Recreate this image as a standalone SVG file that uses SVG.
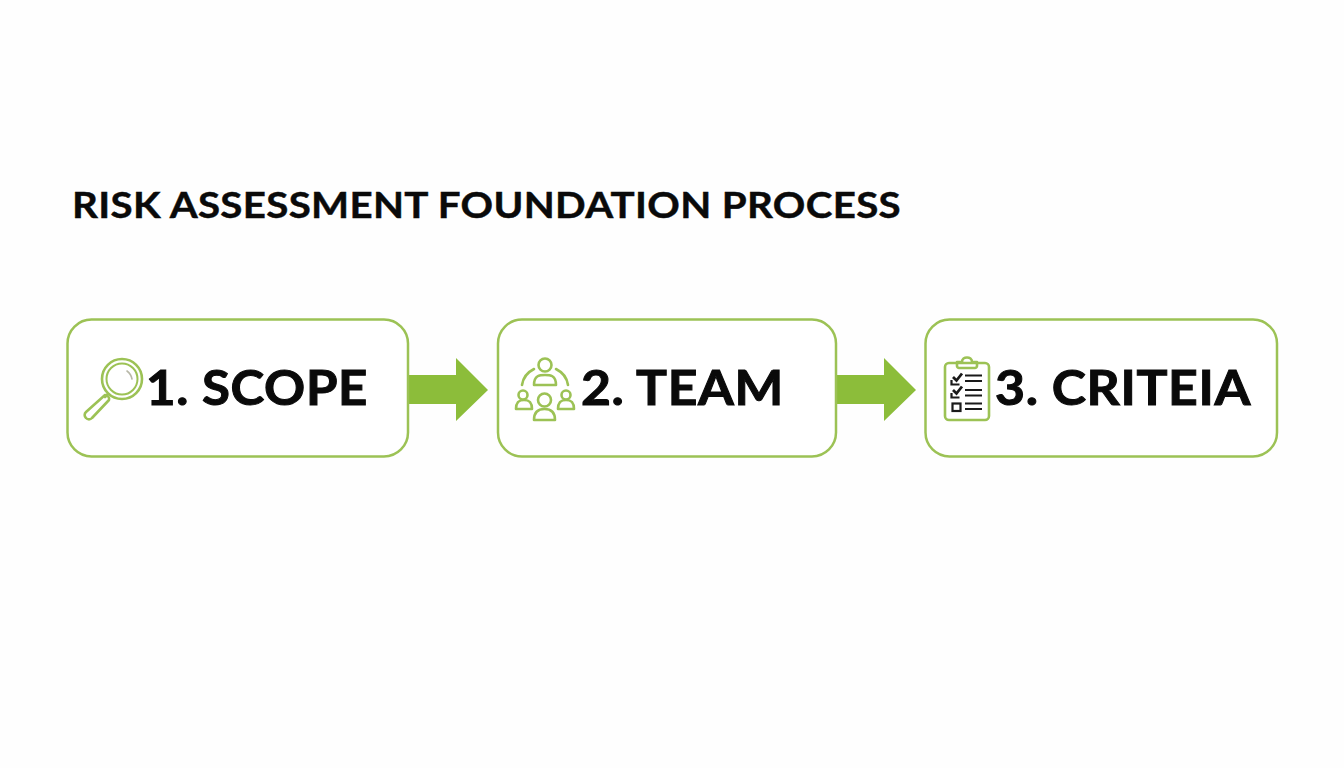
<svg xmlns="http://www.w3.org/2000/svg" width="1344" height="768" viewBox="0 0 1344 768">
<style>
.t{font-family:Lato,"Open Sans",sans-serif;font-weight:700;fill:#0a0a0a;stroke:#0a0a0a}
.title{font-size:37px;stroke-width:.45;letter-spacing:.3px}
.lab{font-size:48px;stroke-width:1;letter-spacing:.6px}
.box{fill:#fff;stroke:#9cc255;stroke-width:2.5}
.ic{fill:none;stroke:#9cc255;stroke-width:2.6;stroke-linecap:round;stroke-linejoin:round}
.k{fill:none;stroke:#1a1a1a;stroke-width:2.200}
.arr{fill:#8cbd3a}
</style>
<rect width="1344" height="768" fill="#fefefe"/>
<text id="title" class="t title" x="72" y="218" textLength="829" lengthAdjust="spacingAndGlyphs">RISK ASSESSMENT FOUNDATION PROCESS</text>
<g id="connectors">
<polygon class="arr" points="408,375 456,375 456,358 488,390 456,421 456,404 408,404"/>
<polygon class="arr" points="836,375 884,375 884,358 916,390 884,421 884,404 836,404"/>
</g>
<g id="node1">
<rect class="box" x="67.500" y="319.500" width="340.500" height="137" rx="24"/>
<g class="ic">
<circle cx="122" cy="379" r="20"/>
<circle cx="122" cy="379" r="15.500" stroke-width="2"/>
<path d="M127 371a13 13 0 0 1 5 8" stroke="#b8b8a8" stroke-width="1.600"/>
<path d="M108 394l-3 3M105 395l-19 17a4 4 0 0 0 0 6a4 4 0 0 0 6 0l17-18a4 4 0 0 0-4-5z"/>
</g>
<text class="t lab" x="146" y="405" textLength="222" lengthAdjust="spacingAndGlyphs">1. SCOPE</text>
</g>
<g id="node2">
<rect class="box" x="498" y="319.500" width="338" height="137" rx="24"/>
<g class="ic">
<circle cx="545" cy="365" r="6.500"/>
<path d="M534 385c0-10 6-10 11-10s11 0 11 10z"/>
<path d="M522 385c1-7 6-13 12-16M568 385c-1-7-6-13-12-16"/>
<circle cx="523" cy="395" r="4.500"/>
<path d="M516 409c0-7 3-9 8-9s8 2 8 9z"/>
<circle cx="566" cy="395" r="4.500"/>
<path d="M558 409c0-7 3-9 8-9s8 2 8 9z"/>
<circle cx="544.500" cy="400" r="6.500"/>
<path d="M534 420c0-9 5-11 10.500-11s10.500 2 10.500 11z"/>
</g>
<text class="t lab" x="581" y="405" textLength="203" lengthAdjust="spacingAndGlyphs">2. TEAM</text>
</g>
<g id="node3">
<rect class="box" x="925.500" y="319.500" width="351.500" height="137" rx="24"/>
<g class="ic">
<rect x="945" y="363" width="44" height="57" rx="4"/>
<path d="M957 366v-4h5c0-6 10-6 10 0h5v4c0 1-1 2-2 2h-16c-1 0-2-1-2-2z"/>
</g>
<g class="k">
<path d="M951.500 380v4.500h8"/>
<path d="M953 377l3.500 3.500 5.500-7" stroke-width="2.800"/>
<path d="M951.500 393v4.500h8"/>
<path d="M953 390l3.500 3.500 5.500-7" stroke-width="2.800"/>
<rect x="952.500" y="403.500" width="8" height="7.500"/>
<path d="M965 375.500h17M965 381h17M965 390h17M965 395.500h17M965 403.500h17M965 409h17"/>
</g>
<text class="t lab" x="995" y="405" textLength="256" lengthAdjust="spacingAndGlyphs">3. CRITEIA</text>
</g>
</svg>
